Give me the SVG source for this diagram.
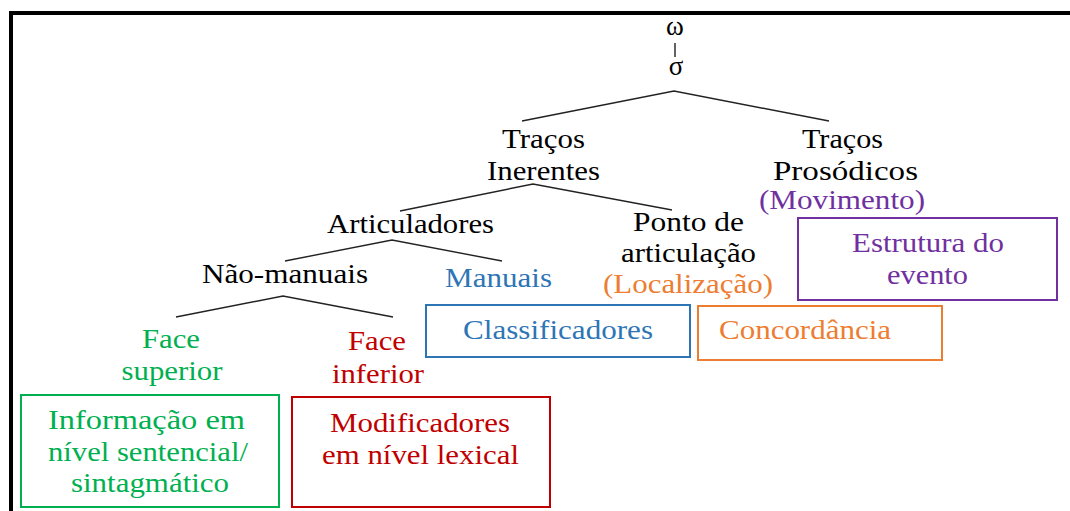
<svg xmlns="http://www.w3.org/2000/svg" width="1070" height="511" viewBox="0 0 1070 511">
<style>
text{font-size:27px;text-anchor:middle}
.k{fill:#000}
.g{fill:#00B050}.r{fill:#C00000}.b{fill:#2E75B6}.o{fill:#ED7D31}.p{fill:#7030A0}
.box{fill:none;stroke-width:2}
.edge{stroke:#222;stroke-width:1.4;fill:none}
</style>
<rect width="1070" height="511" fill="#fff"/>
<path d="M11 511 V13 H1070" fill="none" stroke="#000" stroke-width="4"/>
<g id="connectors">
<line class="edge" x1="675" y1="43" x2="675" y2="57"/>
<polyline class="edge" points="522,121 674,91 829,121"/>
<polyline class="edge" points="400,211 533,184 672,210"/>
<polyline class="edge" points="285,261 392,240 502,261"/>
<polyline class="edge" points="176,317 283,296 393,317"/>
</g>
<g font-family="Liberation Serif, Tinos, Times New Roman, Times, DejaVu Serif, Noto Serif, serif">
<g id="omega"><text class="k" x="675" y="35" font-size="26">ω</text></g>
<g id="sigma"><text class="k" x="676" y="75" font-size="26">σ</text></g>
<g id="tracos-inerentes">
<text class="k" x="543.5" y="148" textLength="83" lengthAdjust="spacingAndGlyphs">Traços</text>
<text class="k" x="543.5" y="180" textLength="113" lengthAdjust="spacingAndGlyphs">Inerentes</text>
</g>
<g id="tracos-prosodicos">
<text class="k" x="842.5" y="148" textLength="81" lengthAdjust="spacingAndGlyphs">Traços</text>
<text class="k" x="845.5" y="180" textLength="145" lengthAdjust="spacingAndGlyphs">Prosódicos</text>
<text class="p" x="842" y="209" textLength="166" lengthAdjust="spacingAndGlyphs">(Movimento)</text>
</g>
<g id="articuladores">
<text class="k" x="410.5" y="233" textLength="167" lengthAdjust="spacingAndGlyphs">Articuladores</text>
</g>
<g id="ponto-de-articulacao">
<text class="k" x="688.5" y="231" textLength="111" lengthAdjust="spacingAndGlyphs">Ponto de</text>
<text class="k" x="688.5" y="262" textLength="135" lengthAdjust="spacingAndGlyphs">articulação</text>
<text class="o" x="688" y="293" textLength="170" lengthAdjust="spacingAndGlyphs">(Localização)</text>
</g>
<g id="nao-manuais">
<text class="k" x="285" y="283" textLength="166" lengthAdjust="spacingAndGlyphs">Não-manuais</text>
</g>
<g id="manuais">
<text class="b" x="498.5" y="287" textLength="107" lengthAdjust="spacingAndGlyphs">Manuais</text>
</g>
<g id="face-superior">
<text class="g" x="171" y="348" textLength="58" lengthAdjust="spacingAndGlyphs">Face</text>
<text class="g" x="172" y="380" textLength="101" lengthAdjust="spacingAndGlyphs">superior</text>
</g>
<g id="face-inferior">
<text class="r" x="377" y="350" textLength="58" lengthAdjust="spacingAndGlyphs">Face</text>
<text class="r" x="378" y="383" textLength="92" lengthAdjust="spacingAndGlyphs">inferior</text>
</g>
<g id="classificadores">
<rect class="box" x="426" y="305" width="264" height="52" stroke="#2E75B6"/>
<text class="b" x="558" y="339" textLength="190" lengthAdjust="spacingAndGlyphs">Classificadores</text>
</g>
<g id="concordancia">
<rect class="box" x="698" y="306" width="244" height="54" stroke="#ED7D31"/>
<text class="o" x="805" y="339" textLength="172" lengthAdjust="spacingAndGlyphs">Concordância</text>
</g>
<g id="estrutura-do-evento">
<rect class="box" x="798" y="218" width="259" height="82" stroke="#7030A0"/>
<text class="p" x="928" y="252" textLength="152" lengthAdjust="spacingAndGlyphs">Estrutura do</text>
<text class="p" x="927.5" y="284" textLength="81" lengthAdjust="spacingAndGlyphs">evento</text>
</g>
<g id="informacao">
<rect class="box" x="21" y="395" width="258" height="112" stroke="#00B050"/>
<text class="g" x="146.5" y="429" textLength="197" lengthAdjust="spacingAndGlyphs">Informação em</text>
<text class="g" x="148" y="461" textLength="200" lengthAdjust="spacingAndGlyphs">nível sentencial/</text>
<text class="g" x="150" y="492" textLength="158" lengthAdjust="spacingAndGlyphs">sintagmático</text>
</g>
<g id="modificadores">
<rect class="box" x="292" y="397" width="258" height="110" stroke="#C00000"/>
<text class="r" x="420" y="432" textLength="180" lengthAdjust="spacingAndGlyphs">Modificadores</text>
<text class="r" x="420.5" y="464" textLength="197" lengthAdjust="spacingAndGlyphs">em nível lexical</text>
</g>
</g>
</svg>
